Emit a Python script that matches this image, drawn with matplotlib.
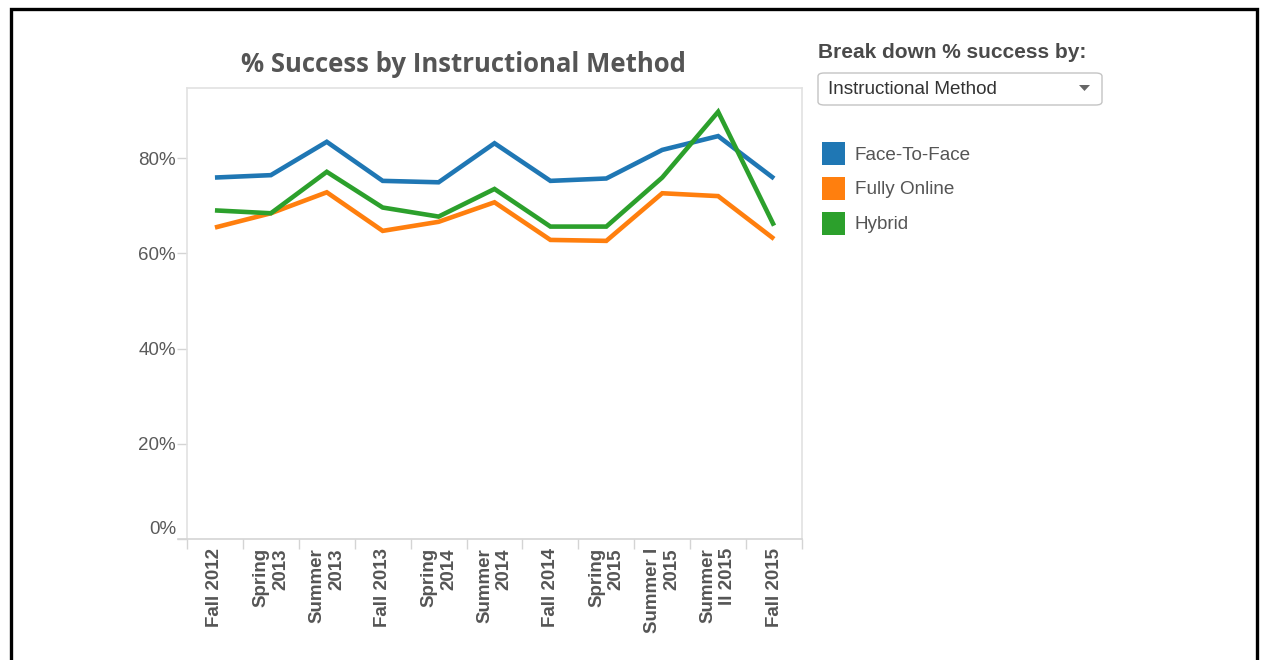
import matplotlib
matplotlib.use('Agg')
import matplotlib.pyplot as plt
from matplotlib.patches import Rectangle, FancyBboxPatch, Polygon
from matplotlib.transforms import Bbox, TransformedBbox, ScaledTranslation

# Data
terms = ["Fall 2012", "Spring\n2013", "Summer\n2013", "Fall 2013", "Spring\n2014",
         "Summer\n2014", "Fall 2014", "Spring\n2015", "Summer I\n2015",
         "Summer\nII 2015", "Fall 2015"]
face_to_face = [75.9, 76.4, 83.4, 75.2, 74.9, 83.1, 75.2, 75.7, 81.7, 84.6, 75.7]
fully_online = [65.4, 68.4, 72.8, 64.7, 66.6, 70.7, 62.8, 62.6, 72.6, 72.0, 63.0]
hybrid = [69.0, 68.4, 77.1, 69.6, 67.7, 73.5, 65.6, 65.6, 75.9, 89.7, 65.8]
series_names = ["Face-To-Face", "Fully Online", "Hybrid"]
series_colors = ["#1f77b4", "#ff7f0e", "#2ca02c"]
y_ticks = [0, 20, 40, 60, 80]
y_labels = ["0%", "20%", "40%", "60%", "80%"]

W, H = 1261, 660
fig = plt.figure(figsize=(W / 100, H / 100), dpi=100)
plt.rcParams['font.family'] = ['Liberation Sans', 'DejaVu Sans']

def fx(px):
    return px / W

def fy(py):
    return 1 - py / H

# plot area: x 187..802, y 88..539
ax = fig.add_axes([fx(187), fy(539), fx(802 - 187), (539 - 88) / H])
x = list(range(len(terms)))
for vals, col in zip([face_to_face, fully_online, hybrid], series_colors):
    ax.plot(x, vals, color=col, lw=3.3, solid_joinstyle='miter', solid_capstyle='butt')

ax.set_xlim(-0.5, len(terms) - 0.5)
ax.set_ylim(0, 94.7)

for s in ['top', 'right', 'left']:
    ax.spines[s].set_color('#e2e2e2')
    ax.spines[s].set_linewidth(1.2)
ax.spines['bottom'].set_color('#d4d4d4')
ax.spines['bottom'].set_linewidth(1.2)
ax.spines['bottom'].set_bounds(-0.66, len(terms) - 0.5)

ax.set_yticks(y_ticks)
ax.set_yticklabels(y_labels)
ax.tick_params(axis='y', length=7, width=1, color='#d4d4d4', pad=1,
               labelsize=13.5, labelcolor='#5a5a5a')

ax.set_xticks(x)
ax.set_xticklabels(terms, rotation=90, fontweight='bold', va='top', ha='center',
                   multialignment='right')
ax.tick_params(axis='x', length=0, pad=6.5, labelsize=13.5, labelcolor='#555555')
ax.set_xticks([i - 0.5 for i in range(len(terms) + 1)], minor=True)
ax.tick_params(axis='x', which='minor', length=7, width=1, color='#d4d4d4')

# y labels are clipped on the left in the screenshot, 0% sits raised
clip = TransformedBbox(Bbox([[fx(139), 0], [1, 1]]), fig.transFigure)
for lbl in ax.get_yticklabels():
    lbl.set_clip_box(clip)
    lbl.set_clip_on(True)
    if lbl.get_text() == "0%":
        lbl.set_transform(lbl.get_transform() + ScaledTranslation(0, 0.12, fig.dpi_scale_trans))

# title
fig.text(fx(463.5), fy(64), "% Success by Instructional Method", family='Open Sans',
         fontweight='bold', fontsize=18.5, color='#555555', ha='center', va='center')

# parameter control
fig.text(fx(818), fy(52.5), "Break down % success by:", fontweight='bold', fontsize=15,
         color='#4a4a4a', ha='left', va='center')
fig.patches.append(FancyBboxPatch((fx(818), fy(105)), fx(1102 - 818), (105 - 73) / H,
                                  boxstyle="round,pad=0,rounding_size=0.005",
                                  transform=fig.transFigure, facecolor='white',
                                  edgecolor='#c4c4c4', lw=1.0))
fig.text(fx(828), fy(89.5), "Instructional Method", fontsize=13.6, color='#333333',
         ha='left', va='center')
fig.patches.append(Polygon([(fx(1079), fy(85)), (fx(1090), fy(85)), (fx(1084.5), fy(91))],
                           closed=True, transform=fig.transFigure, facecolor='#666666',
                           edgecolor='none'))

# legend
for i, (name, col) in enumerate(zip(series_names, series_colors)):
    top = 142 + i * 35
    fig.patches.append(Rectangle((fx(822), fy(top + 23)), fx(23), 23 / H,
                                 transform=fig.transFigure, facecolor=col,
                                 edgecolor='none'))
    fig.text(fx(855), fy(top + 13), name, fontsize=13.6, color='#555555',
             ha='left', va='center')

# black frame of the screenshot
fig.patches.append(Rectangle((fx(10.5), fy(700)), fx(1256.5 - 10.5), (700 - 8.5) / H,
                             transform=fig.transFigure, facecolor='none',
                             edgecolor='black', lw=2.4, clip_on=False))

fig.savefig('out.png', dpi=100)
